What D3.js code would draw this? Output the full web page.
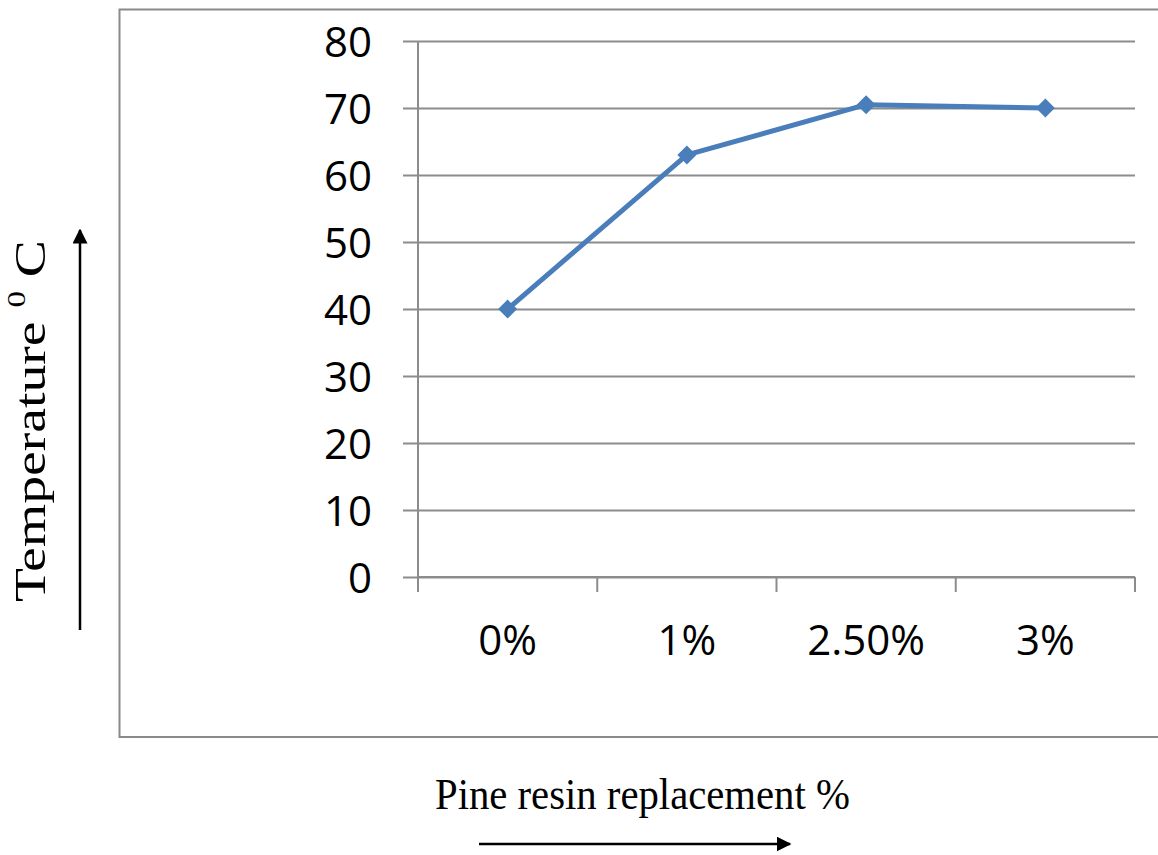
<!DOCTYPE html>
<html>
<head>
<meta charset="utf-8">
<script src="https://cdn.jsdelivr.net/npm/d3@7"></script>
<style>
  html, body { margin: 0; padding: 0; background: #fff; }
  svg { display: block; }
</style>
</head>
<body>
<svg id="chart" width="1158" height="855"></svg>
<script>
// Setting temperature against pine resin replacement level
const categories = ["0%", "1%", "2.50%", "3%"];
const temperature = [40, 63, 70.5, 70];
const yTicks = [0, 10, 20, 30, 40, 50, 60, 70, 80];

const svg = d3.select("#chart");

// chart frame
svg.append("rect")
  .attr("x", 119.5).attr("y", 9.5)
  .attr("width", 1060).attr("height", 727.5)
  .attr("fill", "none").attr("stroke", "#8a8a8a").attr("stroke-width", 2);

const plot = { left: 418, right: 1135, top: 41, bottom: 577 };

const x = d3.scaleBand().domain(categories).range([plot.left, plot.right]).padding(0);
const y = d3.scaleLinear().domain([0, 80]).range([plot.bottom, plot.top]);

const gridColor = "#8c8c8c";
const labelFont = "'Open Sans', sans-serif";
const labelSize = 42;

// horizontal gridlines + y axis labels
const yAxis = d3.axisLeft(y).tickValues(yTicks)
  .tickSize(-(plot.right - plot.left)).tickSizeOuter(0).tickPadding(46);
const gy = svg.append("g").attr("transform", `translate(${plot.left},0)`).call(yAxis);
gy.select(".domain").remove();
gy.selectAll(".tick line")
  .attr("x1", -15)
  .attr("stroke", gridColor).attr("stroke-width", 2);
gy.selectAll(".tick text")
  .attr("font-family", labelFont).attr("font-size", labelSize).attr("fill", "#000")
  .attr("dy", 15);

// vertical axis line
svg.append("line")
  .attr("x1", plot.left).attr("x2", plot.left)
  .attr("y1", plot.top).attr("y2", plot.bottom + 15)
  .attr("stroke", gridColor).attr("stroke-width", 2);

// x axis: labels centred in each category, ticks on the boundaries
const xAxis = d3.axisBottom(x).tickSize(0).tickPadding(78);
const gx = svg.append("g").attr("transform", `translate(0,${plot.bottom})`).call(xAxis);
gx.select(".domain").remove();
gx.selectAll(".tick text")
  .attr("font-family", labelFont).attr("font-size", labelSize).attr("fill", "#000")
  .attr("dy", 0);
svg.append("line")
  .attr("x1", plot.left).attr("x2", plot.right)
  .attr("y1", plot.bottom).attr("y2", plot.bottom)
  .attr("stroke", gridColor).attr("stroke-width", 2);
const boundaries = categories.map(c => x(c)).concat([x(categories[categories.length - 1]) + x.bandwidth()]);
svg.append("g").selectAll("line").data(boundaries).join("line")
  .attr("x1", d => d).attr("x2", d => d)
  .attr("y1", plot.bottom).attr("y2", plot.bottom + 15)
  .attr("stroke", gridColor).attr("stroke-width", 2);

// data line and diamond markers
const blue = "#4a7ebb";
const pts = categories.map((c, i) => [x(c) + x.bandwidth() / 2, y(temperature[i])]);
svg.append("path")
  .attr("d", d3.line()(pts))
  .attr("fill", "none").attr("stroke", blue).attr("stroke-width", 5)
  .attr("stroke-linejoin", "round");
svg.append("g").selectAll("path").data(pts).join("path")
  .attr("transform", d => `translate(${d[0]},${d[1]})`)
  .attr("d", "M0,-9.5L9.5,0L0,9.5L-9.5,0Z")
  .attr("fill", blue);

// axis titles (serif) with arrows
const serif = "'Times New Roman', 'Liberation Serif', serif";
svg.append("defs").append("marker")
  .attr("id", "arrowhead").attr("viewBox", "0 0 10 10")
  .attr("refX", 9).attr("refY", 5)
  .attr("markerWidth", 6).attr("markerHeight", 6)
  .attr("markerUnits", "strokeWidth")
  .attr("orient", "auto")
  .append("path").attr("d", "M0,0L10,5L0,10Z").attr("fill", "#000");

// vertical title, stretched along its run to span 602 → 240
const yTitleG = svg.append("g").attr("transform", "translate(45,602) rotate(-90)");
const yTitle = yTitleG.append("text")
  .attr("x", 0).attr("y", 0)
  .attr("font-family", serif).attr("font-size", 44).attr("fill", "#000");
yTitle.append("tspan").text("Temperature ");
yTitle.append("tspan").attr("font-size", 26).attr("dy", -20).text("0");
yTitle.append("tspan").attr("dy", 20).text(" C");
{
  const len = yTitle.node().getComputedTextLength();
  yTitle.attr("transform", `scale(${362 / len},1)`);
}

svg.append("line")
  .attr("x1", 80).attr("x2", 80).attr("y1", 630).attr("y2", 230)
  .attr("stroke", "#000").attr("stroke-width", 2.5)
  .attr("marker-end", "url(#arrowhead)");

const xTitle = svg.append("text")
  .attr("x", 0).attr("y", 0)
  .attr("font-family", serif).attr("font-size", 44).attr("fill", "#000")
  .text("Pine resin replacement %");
{
  const len = xTitle.node().getComputedTextLength();
  xTitle.attr("transform", `translate(435,809) scale(${415 / len},1)`);
}

svg.append("line")
  .attr("x1", 479).attr("x2", 790).attr("y1", 844).attr("y2", 844)
  .attr("stroke", "#000").attr("stroke-width", 2.5)
  .attr("marker-end", "url(#arrowhead)");
</script>
</body>
</html>
